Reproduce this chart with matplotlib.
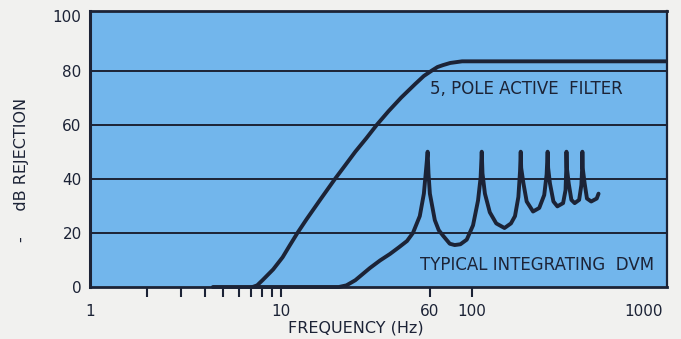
import matplotlib
matplotlib.use("Agg")
import matplotlib.pyplot as plt
from matplotlib.ticker import FixedLocator, NullFormatter

# 5 pole active filter (Hz, dB)
filter_f = [7.1, 7.5, 8, 9.1, 10.2, 11.1, 12.2, 13.6, 16.1, 19.2, 21.7, 24.5, 28,
            31.8, 36.6, 42.6, 50.4, 56, 61.7, 66, 70.5, 77, 88.8, 1100]
filter_db = [0, 0.6, 2.5, 6.5, 11, 15.3, 20, 25, 32.4, 40, 45, 50, 55,
             60, 65, 70, 75, 78, 80, 81.3, 82, 82.8, 83.4, 83.4]

# typical integrating DVM (Hz, dB)
dvm_f = [4.4, 20.1, 22, 24.5, 29.2, 33, 37.2, 41.5, 45.7, 49.1, 53.3, 56, 57.6, 58.6,
         59.2, 60.2, 63.9, 67, 70.5, 76.5, 81.2, 87, 93.9, 101.3, 107.6, 111, 112.5,
         113.5, 116.9, 124, 134, 148, 160, 168, 175, 178.5, 180,
         181, 186, 193.4, 208.8, 225, 239, 246, 249,
         250.5, 256, 267, 280, 300, 309, 311.5, 312.5,
         314, 321, 331.5, 345, 364, 374, 377.5, 378.5,
         380, 389, 400, 421, 450, 460]
dvm_db = [0, 0, 0.6, 2.5, 7, 9.8, 12.2, 14.7, 17, 20, 26.2, 34.5, 44, 50,
          42, 34.5, 24.7, 21, 19, 16, 15.5, 15.8, 17.5, 22.8, 32, 40.5, 50,
          42, 34.5, 27.6, 23.5, 21.8, 23.5, 26.2, 33.3, 42.7, 50,
          44, 38.3, 31.6, 27.9, 29.2, 34, 41.6, 50,
          44, 38.3, 31.6, 29.8, 31, 35.8, 43, 50,
          44, 38.3, 32.2, 31, 32.2, 37.7, 44, 50,
          44, 38.3, 32.7, 31.6, 32.7, 34.5]

y_ticks = [0, 20, 40, 60, 80, 100]
x_ticks = [1, 10, 60, 100, 1000]
x_labels = ["1", "10", "60", "100", "1000"]
x_minor = [2, 3, 4, 5, 6, 7, 8, 9]

ink = "#1c2336"
blue = "#72b6ec"

fig = plt.figure(figsize=(6.81, 3.39), dpi=100, facecolor="#f1f1ef")
ax = fig.add_axes([90 / 681, 52 / 339, 577 / 681, 276 / 339])
ax.set_facecolor(blue)

ax.set_xscale("log")
ax.set_xlim(1, 1050)
ax.set_ylim(0, 102)

# horizontal rules
for v in y_ticks[1:-1]:
    ax.axhline(v, color=ink, lw=1.4, zorder=1)

ax.plot(dvm_f, dvm_db, color=ink, lw=2.8, solid_joinstyle="round",
        solid_capstyle="round", zorder=3, clip_on=False)
ax.plot(filter_f, filter_db, color=ink, lw=2.8, solid_joinstyle="round",
        solid_capstyle="round", zorder=3)

for side, w in [("left", 2.2), ("bottom", 2.0), ("top", 2.0), ("right", 1.6)]:
    ax.spines[side].set_color(ink)
    ax.spines[side].set_linewidth(w)

ax.set_yticks(y_ticks)
ax.tick_params(axis="y", length=0, pad=6, labelsize=11, labelcolor=ink)

ax.xaxis.set_major_locator(FixedLocator(x_ticks))
ax.set_xticklabels(x_labels)
ax.xaxis.set_minor_locator(FixedLocator(x_minor))
ax.xaxis.set_minor_formatter(NullFormatter())
ax.tick_params(axis="x", which="both", direction="out", length=7, width=1.5,
               color=ink, pad=5, labelsize=11, labelcolor=ink)
ticks = ax.xaxis.get_major_ticks()
ticks[0].tick1line.set_visible(False)
ticks[-1].tick1line.set_visible(False)
ticks[-1].label1.set_horizontalalignment("right")

fig.text(356 / 681, 1 - 328 / 339, "FREQUENCY (Hz)", ha="center", va="center",
         fontsize=11.5, color=ink)
fig.text(0.032, 1 - 170 / 339, "-     dB REJECTION", rotation=90, ha="center",
         va="center", fontsize=11.5, color=ink)

ax.text(0.589, 0.717, "5, POLE ACTIVE  FILTER", transform=ax.transAxes,
        fontsize=12, color=ink, va="center")
ax.text(0.572, 0.080, "TYPICAL INTEGRATING  DVM", transform=ax.transAxes,
        fontsize=12, color=ink, va="center")

fig.savefig("out.png", dpi=100, facecolor=fig.get_facecolor())
